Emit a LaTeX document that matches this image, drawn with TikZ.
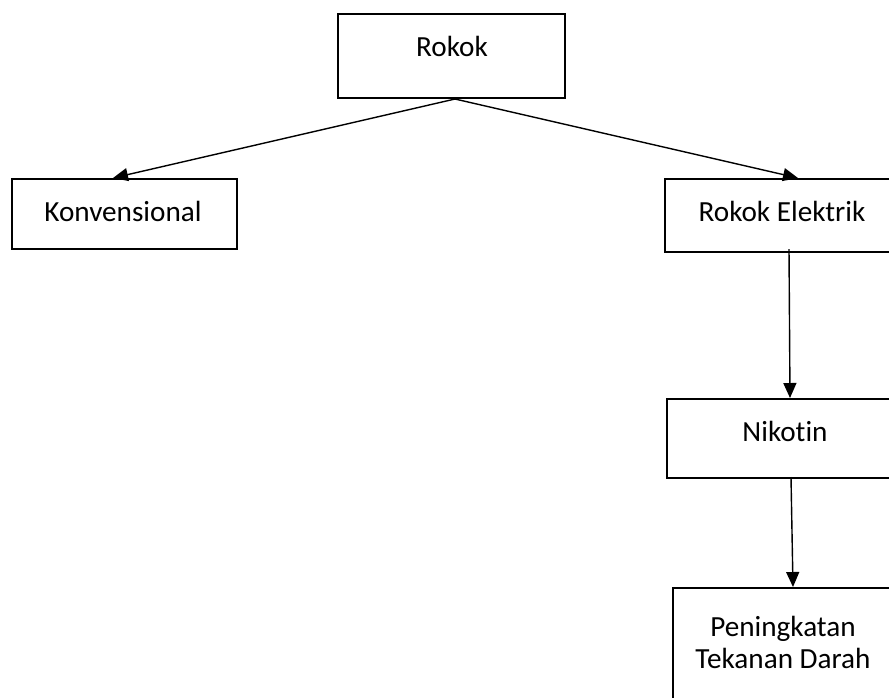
\documentclass[tikz,border=0pt]{standalone}
\usepackage{fontspec}
\setmainfont{Carlito}[Ligatures=NoCommon]
\usetikzlibrary{arrows.meta}
\begin{document}
\begin{tikzpicture}[x=1pt,y=-1pt,
  box/.style={draw=black, line width=2pt, rectangle, inner sep=0pt},
  lbl/.style={font=\fontsize{29.2}{32}\selectfont, align=center, inner sep=0pt},
  conn/.style={draw=black, line width=1.4pt, -{Triangle[length=15pt,width=13pt]}}]
\useasboundingbox (0,0) rectangle (889,697);
\clip (0,0) rectangle (889,697);
\node[box, minimum width=227pt, minimum height=84pt] (rokok) at (451.5,56) {};
\node[box, minimum width=225pt, minimum height=70pt] (konv) at (124.5,214) {};
\node[box, minimum width=234pt, minimum height=73pt] (elek) at (782,215.5) {};
\node[box, minimum width=236pt, minimum height=79pt] (nik) at (785,438.5) {};
\node[box, minimum width=220pt, minimum height=132pt] (pen) at (783,654) {};
\node[lbl] (rokokT) at (452,46) {Rokok};
\node[lbl] (konvT) at (123,211) {Konvensional};
\node[lbl] (elekT) at (782,211) {Rokok Elektrik};
\node[lbl] (nikT) at (785,431) {Nikotin};
\node[lbl] (penT) at (783,642) {Peningkatan\\Tekanan Darah};
\draw[conn] ([xshift=3.5pt]rokok.south) -- ([xshift=-11.5pt]konv.north);
\draw[conn] ([xshift=3.5pt]rokok.south) -- ([xshift=16pt]elek.north);
\draw[conn] ([xshift=7pt,yshift=4pt]elek.south) -- ([xshift=5pt]nik.north);
\draw[conn] ([xshift=6pt,yshift=2pt]nik.south) -- ([xshift=10pt]pen.north);
\end{tikzpicture}
\end{document}
